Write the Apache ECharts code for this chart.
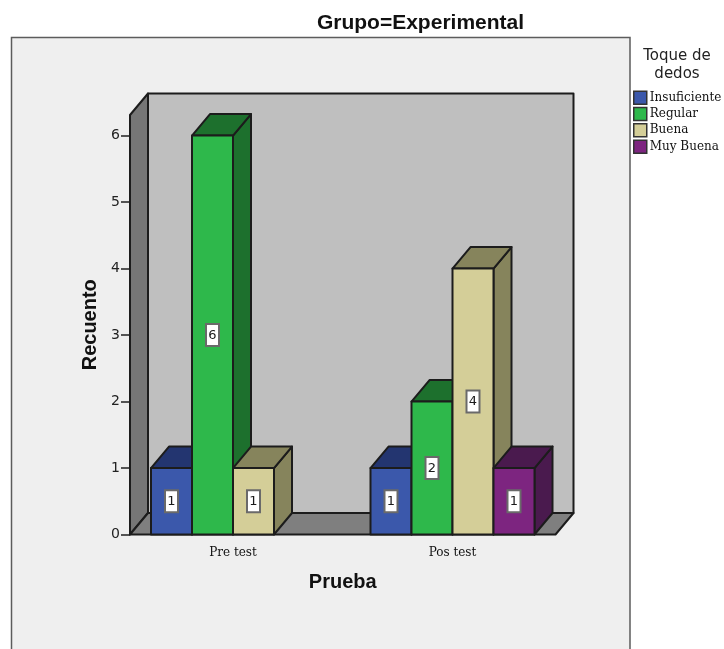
<!DOCTYPE html>
<html>
<head>
<meta charset="utf-8">
<style>html,body{margin:0;padding:0;background:#fff}#chart{width:724px;height:649px}</style>
<script src="https://cdn.jsdelivr.net/npm/echarts@6/dist/echarts.min.js"></script>
</head>
<body>
<div id="chart"></div>
<script>
// Bar counts per test stage, one list per rating level
const categories = ['Pre test', 'Pos test'];
const insuficiente = [1, 1];
const regular = [6, 2];
const buena = [1, 4];
const muyBuena = [null, 1];
const yTicks = [0, 1, 2, 3, 4, 5, 6];
const yTop = 6.31;

const levels = [
  { name: 'Insuficiente', values: insuficiente, front: '#3b58ab', shade: '#233570' },
  { name: 'Regular', values: regular, front: '#2eb84b', shade: '#1d702d' },
  { name: 'Buena', values: buena, front: '#d4ce98', shade: '#86845c' },
  { name: 'Muy Buena', values: muyBuena, front: '#7d2580', shade: '#4a1a4e' }
];

// Box look: oblique depth of the 3D projection and the outline pen
const depthX = 18, depthY = 21.5;
const slotShare = 41 / 219.5;
const wallInset = 6.75;
const pen = { stroke: '#1c1c1c', lineWidth: 2, lineJoin: 'round' };
const serif = '"DejaVu Serif", serif';
const plain = '"DejaVu Sans", sans-serif';

function face(points, fill) {
  return { type: 'polygon', shape: { points }, style: Object.assign({ fill }, pen) };
}

// Back wall, side wall and floor of the chart box
function renderWalls(params, api) {
  const cs = params.coordSys;
  const base = api.coord([0, 0])[1];
  const top = api.coord([0, yTop])[1];
  const l = cs.x + wallInset, r = cs.x + cs.width - wallInset;
  return {
    type: 'group',
    children: [
      face([[l + depthX, top - depthY], [r + depthX, top - depthY], [r + depthX, base - depthY], [l + depthX, base - depthY]], '#bfbfbf'),
      face([[l, top], [l + depthX, top - depthY], [l + depthX, base - depthY], [l, base]], '#767676'),
      face([[l, base], [l + depthX, base - depthY], [r + depthX, base - depthY], [r, base]], '#7f7f7f')
    ]
  };
}

// A single extruded bar with its boxed value label
function makeBarRenderer(level, slot) {
  return function (params, api) {
    const value = api.value(1);
    if (value == null || isNaN(value)) return null;
    const band = api.size([1, 0])[0];
    const w = band * slotShare;
    const center = api.coord([api.value(0), 0])[0];
    const x0 = center + (slot - 2) * w;
    const x1 = x0 + w;
    const y0 = api.coord([0, 0])[1];
    const y1 = api.coord([0, value])[1];
    const mx = (x0 + x1) / 2 , my = api.coord([0, value / 2])[1];
    return {
      type: 'group',
      children: [
        face([[x1, y1], [x1 + depthX, y1 - depthY], [x1 + depthX, y0 - depthY], [x1, y0]], level.shade),
        face([[x0, y1], [x0 + depthX, y1 - depthY], [x1 + depthX, y1 - depthY], [x1, y1]], level.shade),
        face([[x0, y1], [x1, y1], [x1, y0], [x0, y0]], level.front),
        { type: 'rect', shape: { x: mx - 6.5, y: my - 11, width: 13, height: 22 },
          style: { fill: '#ffffff', stroke: '#6a6a6a', lineWidth: 2 } },
        { type: 'text', x: mx, y: my + 0.5,
          style: { text: String(value), fill: '#1a1a1a', font: '13px ' + plain, textAlign: 'center', textVerticalAlign: 'middle' } }
      ]
    };
  };
}

const series = [{
  type: 'custom',
  silent: true,
  clip: false,
  renderItem: renderWalls,
  data: [[0, 0]],
  z: 1
}].concat(levels.map((level, i) => ({
  name: level.name,
  type: 'custom',
  clip: false,
  itemStyle: { color: level.front },
  renderItem: makeBarRenderer(level, i),
  encode: { x: 0, y: 1 },
  data: level.values.map((v, c) => [c, v]),
  z: 2
})));

const chart = echarts.init(document.getElementById('chart'), null, { renderer: 'canvas' });
chart.setOption({
  animation: false,
  backgroundColor: '#ffffff',
  graphic: [{
    type: 'rect', z: -10, silent: true,
    shape: { x: 11.5, y: 37.5, width: 618.5, height: 640 },
    style: { fill: '#efefef', stroke: '#5c5c5c', lineWidth: 1.5 }
  }],
  title: [
    { text: 'Grupo=Experimental', left: 415.5, top: 7.5, textAlign: 'center',
      textStyle: { fontFamily: '"Liberation Sans"', fontWeight: 'bold', fontSize: 21, color: '#111' } },
    { text: 'Toque de\ndedos', left: 672, top: 42, textAlign: 'center',
      textStyle: { fontFamily: plain, fontWeight: 'normal', fontSize: 15, lineHeight: 18, color: '#222' } }
  ],
  legend: {
    left: 633, top: 90.5, orient: 'vertical', padding: 0,
    data: levels.map(l => l.name),
    selectedMode: false,
    icon: 'rect',
    itemWidth: 13, itemHeight: 13, itemGap: 1.8,
    itemStyle: { borderColor: '#333', borderWidth: 1.5 },
    textStyle: { fontFamily: serif, fontSize: 12, lineHeight: 13, color: '#111', padding: [0, 0, 0, -2] }
  },
  grid: { left: 123.25, width: 439, top: 115, height: 419.5 },
  xAxis: {
    type: 'category',
    data: categories,
    name: 'Prueba',
    nameLocation: 'middle',
    nameGap: 38,
    nameTextStyle: { fontFamily: '"Liberation Sans"', fontWeight: 'bold', fontSize: 20, color: '#111' },
    axisLine: { show: false },
    axisTick: { alignWithLabel: true, length: 9, lineStyle: { color: '#222', width: 1.5 },
      customValues: [0, 1] },
    axisLabel: { fontFamily: serif, fontSize: 12, color: '#111', margin: 12 }
  },
  yAxis: {
    type: 'value',
    min: 0, max: yTop, interval: 1,
    offset: -wallInset,
    name: 'Recuento',
    nameLocation: 'middle',
    nameGap: 30,
    nameTextStyle: { fontFamily: '"Liberation Sans"', fontWeight: 'bold', fontSize: 20, color: '#111' },
    axisLine: { show: false },
    splitLine: { show: false },
    axisTick: { show: true, length: 9, lineStyle: { color: '#222', width: 1.5 }, customValues: yTicks },
    axisLabel: { fontFamily: plain, fontSize: 14, color: '#222', margin: 10, customValues: yTicks }
  },
  series
});
</script>
</body>
</html>
